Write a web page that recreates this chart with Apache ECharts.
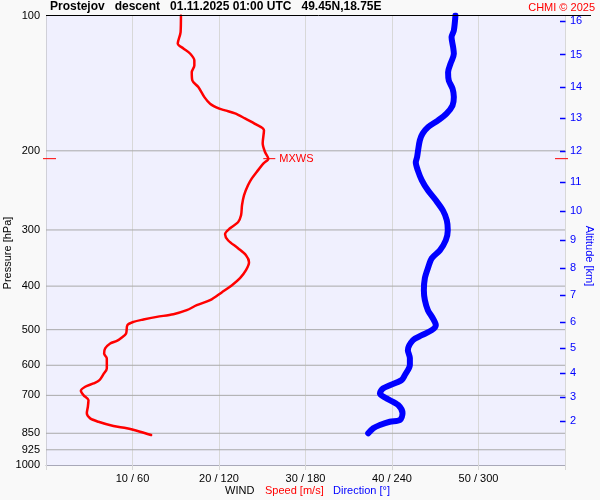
<!DOCTYPE html>
<html>
<head>
<meta charset="utf-8">
<script src="https://cdn.jsdelivr.net/npm/echarts@6/dist/echarts.min.js"></script>
<style>
html,body{margin:0;padding:0;background:#f9f9f9;}
#c{width:600px;height:500px;}
</style>
</head>
<body>
<div id="c"></div>
<script>
// ---- data ----
const titleText = 'Prostejov   descent   01.11.2025 01:00 UTC   49.45N,18.75E';
const pressureTicks = [100, 200, 300, 400, 500, 600, 700, 850, 925, 1000];
const gridPressures = [200, 300, 400, 500, 600, 700, 850, 925];
const speedTicks = [10, 20, 30, 40, 50];
const dirTicks = [60, 120, 180, 240, 300];
const altitudeKm = [2, 3, 4, 5, 6, 7, 8, 9, 10, 11, 12, 13, 14, 15, 16];
const altitudePressure = [798.6, 706.2, 624.6, 549.5, 481.3, 419.0, 364.9, 316.2, 272.6, 235.0, 200.6, 169.3, 144.5, 122.1, 103.1];

const speedPressure = [100, 108.9, 115.4, 118.4, 121.5, 125.9, 129.2, 133.7, 139.5, 144.3, 151.9, 157.1, 161.2, 162.6, 165.1, 169.4, 174.7, 180.1, 192.4, 201.2, 208.2, 213.6, 222.9, 230.6, 238.6, 251.2, 264.4, 278.3, 288.4, 297.4, 306.7, 316.2, 329.4, 341.5, 353.9, 368.6, 384.0, 398.1, 412.6, 429.9, 441.1, 452.5, 461.9, 468.2, 474.5, 480.4, 488.6, 509.8, 520.3, 529.5, 536.6, 550.5, 564.8, 579.4, 609.8, 627.9, 647.5, 658.5, 669.9, 683.8, 699.0, 717.2, 742.1, 767.6, 787.5, 801.3, 819.1, 828.7, 843.3, 857.7];
const speedValues = [15.6, 15.56, 15.23, 15.88, 16.65, 17.15, 17.15, 16.85, 16.92, 17.61, 18.31, 18.97, 20.04, 20.7, 21.85, 23.0, 24.28, 25.2, 25.05, 25.32, 25.7, 25.12, 24.36, 23.78, 23.35, 22.89, 22.66, 22.55, 22.2, 21.28, 20.7, 21.04, 22.2, 23.12, 23.47, 23.12, 22.43, 21.5, 20.35, 18.97, 17.43, 16.27, 14.73, 12.81, 11.26, 10.11, 9.41, 9.26, 8.77, 8.19, 7.42, 6.84, 6.72, 7.03, 7.03, 6.64, 6.18, 5.49, 4.53, 4.03, 4.33, 4.91, 4.84, 4.72, 5.11, 6.06, 7.8, 9.34, 10.88, 12.15];

const dirPressure = [100, 108.0, 111.7, 117.6, 121.7, 128.0, 133.7, 139.5, 145.5, 151.9, 158.5, 165.3, 171.1, 177.1, 183.2, 189.6, 199.5, 206.5, 212.2, 221.1, 232.6, 244.8, 257.7, 271.4, 285.4, 300.4, 316.2, 333.0, 346.7, 364.9, 384.0, 408.4, 429.9, 452.5, 471.5, 488.6, 501.2, 514.2, 527.6, 555.2, 578.4, 599.5, 631.0, 647.5, 675.5, 692.9, 710.9, 735.6, 767.6, 794.3, 801.3, 815.0, 828.7, 850.3];
const dirValues = [284.0, 282.9, 281.3, 282.4, 282.9, 280.6, 278.9, 279.4, 282.0, 282.9, 282.0, 277.8, 272.0, 265.1, 261.2, 259.3, 258.1, 257.4, 256.5, 257.9, 260.7, 264.9, 270.4, 275.3, 278.0, 278.7, 277.3, 273.2, 267.6, 264.9, 262.8, 262.1, 262.8, 264.9, 268.3, 270.4, 267.6, 260.7, 254.5, 251.0, 252.4, 252.4, 248.9, 246.6, 233.9, 231.6, 236.2, 244.3, 247.3, 245.5, 238.5, 231.6, 227.0, 223.5];

const mxwsSpeed = 25.7;
const mxwsPressure = 208.2;
const mxwsLabel = 'MXWS';

// ---- chart ----
const chart = echarts.init(document.getElementById('c'), null, {renderer: 'canvas'});
const FONT = 'Liberation Sans, Arial, sans-serif';

function nearestAlt(v) {
  let best = 0, bd = Infinity;
  altitudePressure.forEach((p, i) => { const d = Math.abs(p - v); if (d < bd) { bd = d; best = i; } });
  return bd < 1 ? String(altitudeKm[best]) : '';
}

const option = {
  animation: false,
  backgroundColor: '#f9f9f9',
  textStyle: {fontFamily: FONT},
  grid: {left: 46, right: 35, top: 15.5, bottom: 35, show: true, backgroundColor: '#f0f0fe', borderWidth: 0, containLabel: false},
  xAxis: [
    {
      type: 'value', min: 0, max: 60, interval: 10,
      axisLine: {show: true, lineStyle: {color: '#a8a8b8', width: 1}},
      axisTick: {show: true, length: 5, lineStyle: {color: '#d8d8d8'}},
      splitLine: {show: true, lineStyle: {color: '#d8d8d8', width: 1}},
      axisLabel: {
        customValues: speedTicks, margin: 8, color: '#000', fontSize: 11, fontFamily: FONT,
        formatter: v => { const i = speedTicks.indexOf(v); return i >= 0 ? v + ' / ' + dirTicks[i] : ''; }
      }
    },
    {
      type: 'value', min: 0, max: 360, show: false, position: 'top'
    }
  ],
  yAxis: [
    {
      type: 'log', logBase: 10, min: 100, max: 1000, inverse: true, position: 'left',
      axisLine: {show: true, lineStyle: {color: '#000', width: 1}},
      axisTick: {show: false},
      splitLine: {show: false},
      axisLabel: {customValues: pressureTicks, color: '#000', fontSize: 11, margin: 6, fontFamily: FONT, formatter: v => String(Math.round(v))}
    },
    {
      type: 'log', logBase: 10, min: 100, max: 1000, inverse: true, position: 'right',
      axisLine: {show: true, lineStyle: {color: '#d0d0d8', width: 1}},
      axisTick: {show: false},
      splitLine: {show: false},
      axisLabel: {customValues: altitudePressure, color: '#0000ff', fontSize: 11, margin: 5, fontFamily: FONT, formatter: v => nearestAlt(v)}
    }
  ],
  series: [
    {
      type: 'custom', name: 'grid', z: 1, silent: true, xAxisIndex: 0, yAxisIndex: 0,
      data: gridPressures.map(p => [0, p]),
      renderItem: (params, api) => {
        const p = api.value(1);
        const a = api.coord([0, p]);
        const b = api.coord([60, p]);
        return {type: 'line', shape: {x1: a[0], y1: a[1], x2: b[0], y2: b[1]}, style: {stroke: '#aaaaaa', lineWidth: 1}};
      }
    },
    {
      type: 'custom', name: 'altTicks', z: 6, silent: true, clip: false, xAxisIndex: 0, yAxisIndex: 1,
      data: altitudePressure.map(p => [60, p]),
      renderItem: (params, api) => {
        const b = api.coord([60, api.value(1)]);
        const y = Math.round(b[1]) + 0.5;
        return {type: 'line', shape: {x1: b[0] - 5, y1: y, x2: b[0] + 0.5, y2: y}, style: {stroke: '#0000ff', lineWidth: 1.5}};
      }
    },
    {
      type: 'line', name: 'Direction', xAxisIndex: 1, yAxisIndex: 0, z: 3,
      data: dirPressure.map((p, i) => [dirValues[i], p]),
      showSymbol: false, smooth: 0.3,
      lineStyle: {color: '#0000ff', width: 6, cap: 'round', join: 'round'}
    },
    {
      type: 'line', name: 'Speed', xAxisIndex: 0, yAxisIndex: 0, z: 4,
      data: speedPressure.map((p, i) => [speedValues[i], p]),
      showSymbol: false, smooth: 0.3,
      lineStyle: {color: '#ff0000', width: 2.5, cap: 'round', join: 'round'}
    },
    {
      type: 'custom', name: 'mxws', z: 5, silent: true, clip: false, xAxisIndex: 0, yAxisIndex: 0,
      data: [[mxwsSpeed, mxwsPressure]],
      renderItem: (params, api) => {
        const pt = api.coord([api.value(0), api.value(1)]);
        const l = api.coord([0, api.value(1)]);
        const r = api.coord([60, api.value(1)]);
        const st = {stroke: '#ff0000', lineWidth: 1};
        return {type: 'group', children: [
          {type: 'line', shape: {x1: pt[0] - 5, y1: pt[1], x2: pt[0] + 7, y2: pt[1]}, style: st},
          {type: 'line', shape: {x1: l[0] - 3, y1: l[1], x2: l[0] + 10, y2: l[1]}, style: st},
          {type: 'line', shape: {x1: r[0] - 10, y1: r[1], x2: r[0] + 3, y2: r[1]}, style: st},
          {type: 'text', style: {x: pt[0] + 11, y: pt[1], text: mxwsLabel, fill: '#ff0000', font: '11px ' + FONT, textVerticalAlign: 'middle', textAlign: 'left'}}
        ]};
      }
    }
  ],
  graphic: [
    {type: 'line', shape: {x1: 46, y1: 15.5, x2: 591, y2: 15.5}, style: {stroke: '#000', lineWidth: 1}, z: 10},
    {type: 'text', left: 50, top: 1, style: {text: titleText, fill: '#000', font: 'bold 12px ' + FONT}},
    {type: 'text', right: 5, top: 2, style: {text: 'CHMI © 2025', fill: '#ff0000', font: '11px ' + FONT}},
    {type: 'text', x: 8, y: 253, rotation: Math.PI / 2, style: {text: 'Pressure [hPa]', fill: '#000', font: '11px ' + FONT, textAlign: 'center', textVerticalAlign: 'middle'}},
    {type: 'text', x: 589, y: 256, rotation: -Math.PI / 2, style: {text: 'Altitude [km]', fill: '#0000ff', font: '11px ' + FONT, textAlign: 'center', textVerticalAlign: 'middle'}},
    {type: 'text', x: 225, y: 491, style: {text: 'WIND', fill: '#000', font: '11px ' + FONT, textVerticalAlign: 'middle'}},
    {type: 'text', x: 265, y: 491, style: {text: 'Speed [m/s]', fill: '#ff0000', font: '11px ' + FONT, textVerticalAlign: 'middle'}},
    {type: 'text', x: 333, y: 491, style: {text: 'Direction [°]', fill: '#0000ff', font: '11px ' + FONT, textVerticalAlign: 'middle'}}
  ]
};
chart.setOption(option);
</script>
</body>
</html>
